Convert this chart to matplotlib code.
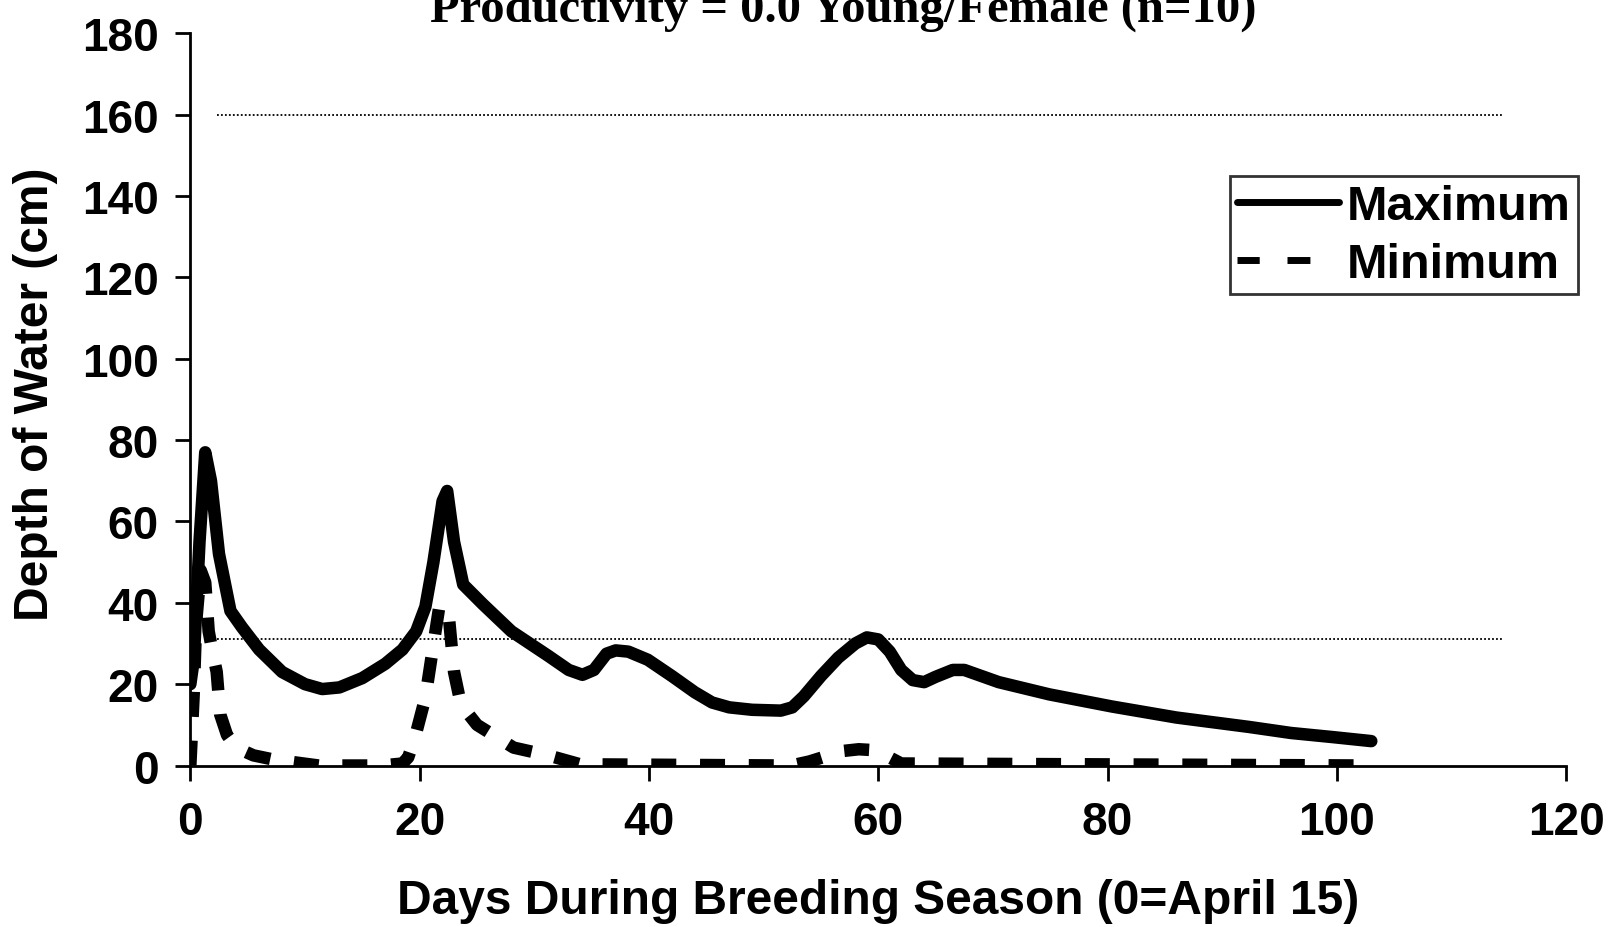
import matplotlib
matplotlib.use("Agg")
import matplotlib.pyplot as plt

# ---- data ----
max_days = [0.0, 0.3, 0.8, 1.3, 1.8, 2.5, 3.5, 4.5, 6.0, 8.0, 10.0, 11.5, 13.0, 15.0,
            17.0, 18.5, 19.7, 20.5, 21.2, 22.0, 22.4, 23.0, 23.8, 25.5, 28.0, 31.2,
            33.0, 34.2, 35.2, 36.3, 37.1, 38.2, 39.9, 42.0, 44.0, 45.5, 47.0, 49.0,
            51.5, 52.5, 53.5, 55.0, 56.5, 58.0, 59.0, 60.0, 61.0, 62.0, 63.0, 64.0,
            65.0, 66.5, 67.5, 69.0, 70.5, 74.9, 80.4, 86.0, 92.3, 96.0, 99.6, 103.0]
max_depth = [20, 26, 55, 77, 70, 52, 38, 34, 28.5, 23, 20, 18.8, 19.2, 21.5,
             25, 28.5, 33, 39, 50, 65, 67.5, 55, 44.5, 39.7, 33, 27,
             23.5, 22.3, 23.5, 27.5, 28.3, 28, 26, 22, 18, 15.5, 14.3, 13.7,
             13.5, 14.3, 17, 22, 26.5, 30, 31.5, 31, 28, 23.5, 21, 20.5,
             21.8, 23.5, 23.5, 22, 20.5, 17.5, 14.5, 11.8, 9.5, 8.0, 7.0, 6.0]

min_days = [0.0, 0.3, 0.5, 0.9, 1.3, 1.6, 2.0, 2.3, 2.6, 3.2, 4.0, 5.5, 7.2, 11.2,
            16.7, 18.5, 19.0, 19.6, 20.5, 21.2, 21.7, 22.2, 22.5, 23.0, 23.6, 25.0,
            28.2, 31.2, 34.0, 52.4, 54.0, 55.7, 57.0, 58.3, 59.5, 60.3, 62.0, 103.0]
min_depth = [0, 18, 35, 48, 45, 33, 27, 23, 12.6, 7.5, 4.4, 2.5, 1.5, 0,
             0, 0.5, 2, 7, 16.7, 29.7, 38.8, 39, 38, 23, 15, 10,
             4.4, 2.5, 0.3, 0, 1, 2.5, 3.6, 4, 3.8, 3, 0.5, 0]

ref_lines = [160, 31]
series_labels = ["Maximum", "Minimum"]
title_text = "Productivity = 0.0 Young/Female (n=10)"
xlabel_text = "Days During Breeding Season (0=April 15)"
ylabel_text = "Depth of Water (cm)"
x_ticks = [0, 20, 40, 60, 80, 100, 120]
y_ticks = [0, 20, 40, 60, 80, 100, 120, 140, 160, 180]

plt.rcParams['font.family'] = ['Liberation Sans', 'DejaVu Sans']

fig = plt.figure(figsize=(16.13, 9.28), dpi=100)
ax = fig.add_axes([0.118, 0.174, 0.853, 0.789])

for yv in ref_lines:
    ax.plot([2.3, 114.6], [yv, yv], color='black', lw=1.3, ls=(0, (1, 1.2)))

ax.plot(max_days, max_depth, color='black', lw=9, solid_joinstyle='round',
        solid_capstyle='round', label=series_labels[0])
ax.plot(min_days, min_depth, color='black', lw=9, dashes=(2.0, 1.9),
        dash_capstyle='butt', dash_joinstyle='round', label=series_labels[1])

ax.set_xlim(0, 120)
ax.set_ylim(0, 180)
ax.set_xticks(x_ticks)
ax.set_yticks(y_ticks)
ax.spines['top'].set_visible(False)
ax.spines['right'].set_visible(False)
for s in ('left', 'bottom'):
    ax.spines[s].set_linewidth(2)
ax.tick_params(axis='both', direction='out', width=2, length=11, labelsize=33)
ax.tick_params(axis='x', pad=14)
ax.tick_params(axis='y', pad=12)
for lab in ax.get_xticklabels() + ax.get_yticklabels():
    lab.set_fontweight('bold')

ax.set_xlabel(xlabel_text, fontsize=34.5, fontweight='bold', labelpad=24)
ax.set_ylabel(ylabel_text, fontsize=34.5, fontweight='bold')
ax.yaxis.set_label_coords(-0.096, 0.508)

fig.text(0.523, 1 - 22 / 928, title_text, ha='center', va='baseline', fontsize=35,
         fontweight='bold', family=['Liberation Serif', 'DejaVu Serif'])

leg = ax.legend(loc='upper right', bbox_to_anchor=(0.978, 0.809),
                bbox_transform=fig.transFigure,
                prop={'weight': 'bold', 'size': 35}, frameon=True, fancybox=False,
                edgecolor='black', handlelength=2.1, handletextpad=0.15,
                borderpad=0.15, labelspacing=0.27, borderaxespad=0)
leg.get_frame().set_linewidth(2)
hl = leg.get_lines()
hl[0].set_linewidth(5)
hl[1].set_linewidth(5)
hl[1].set_dashes((3.2, 4.0, 3.3, 7.0))

fig.savefig("out.png", dpi=100, facecolor='white')
